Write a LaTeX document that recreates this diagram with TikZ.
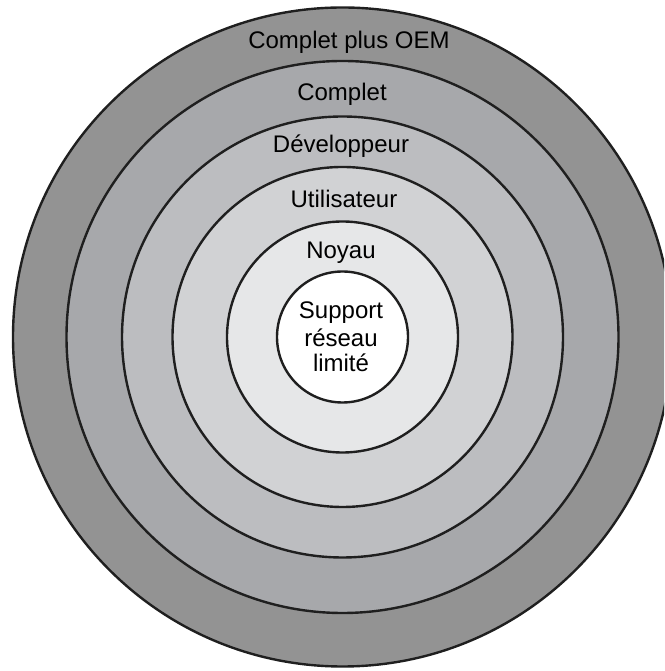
\documentclass[tikz,border=0pt]{standalone}
\usepackage{fontspec}
\setmainfont{Liberation Sans}
\definecolor{ringA}{HTML}{939393}
\definecolor{ringB}{HTML}{A7A8AB}
\definecolor{ringC}{HTML}{BCBDC0}
\definecolor{ringD}{HTML}{D1D2D4}
\definecolor{ringE}{HTML}{E6E7E8}
\begin{document}
\begin{tikzpicture}[x=1pt,y=1pt,
  ring/.style={circle, draw=black!88, line width=2.4pt, inner sep=0pt, outer sep=0pt},
  lbl/.style={anchor=base, inner sep=0pt, font=\fontsize{24}{26.5}\selectfont, text=black}]
\useasboundingbox (0,0) rectangle (664,671);
\clip (0,0) rectangle (664,671);
\coordinate (ctr) at (342.5,334);
\node[ring, fill=ringA, minimum size=659pt] (r6) at (ctr) {};
\node[ring, fill=ringB, minimum size=552pt] (r5) at (ctr) {};
\node[ring, fill=ringC, minimum size=441pt] (r4) at (ctr) {};
\node[ring, fill=ringD, minimum size=340pt] (r3) at (ctr) {};
\node[ring, fill=ringE, minimum size=231pt] (r2) at (ctr) {};
\node[ring, fill=white, minimum size=131pt] (r1) at (ctr) {};
\node[lbl] (t6) at (349,622) {Complet plus OEM};
\node[lbl] (t5) at (342,570) {Complet};
\node[lbl] (t4) at (341,518) {Développeur};
\node[lbl] (t3) at (344,463) {Utilisateur};
\node[lbl] (t2) at (341,412) {Noyau};
\node[lbl] (t1a) at (341,352) {Support};
\node[lbl] (t1b) at (341,324) {réseau};
\node[lbl] (t1c) at (341,299) {limité};
\end{tikzpicture}
\end{document}
